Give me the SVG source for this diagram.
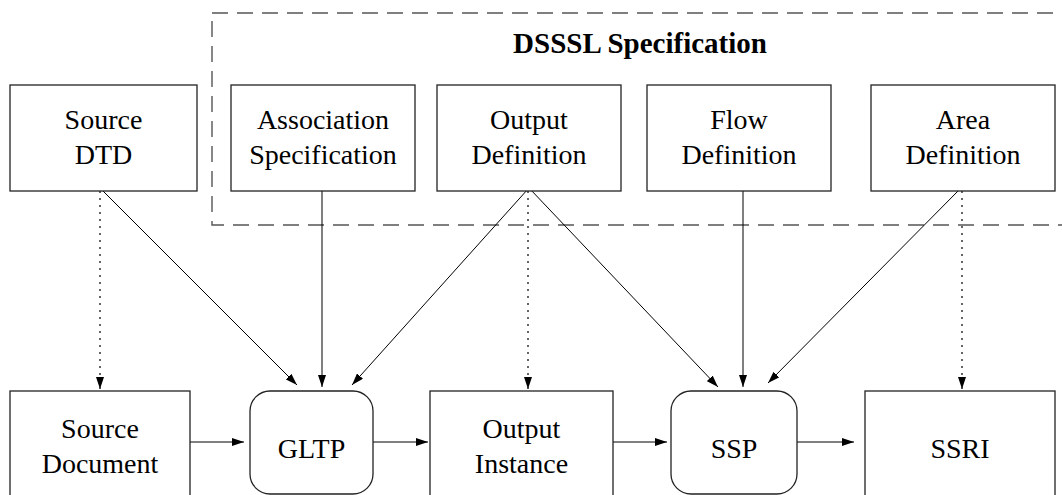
<svg xmlns="http://www.w3.org/2000/svg" width="1062" height="495" viewBox="0 0 1062 495">
<style>
.box{fill:#fff;stroke:#222;stroke-width:1.3}
.t{font-family:'Liberation Serif','Times New Roman',Tinos,'DejaVu Serif',serif;font-size:28px;text-anchor:middle;fill:#000}
.title{font-family:'Liberation Serif','Times New Roman',Tinos,'DejaVu Serif',serif;font-size:29px;font-weight:bold;text-anchor:middle;fill:#000}
.c{stroke:#000;stroke-width:1;fill:none;marker-end:url(#ah)}
.d{stroke:#000;stroke-width:1.2;fill:none;stroke-dasharray:2 5;marker-end:url(#ah)}
</style>
<defs>
<marker id="ah" viewBox="0 0 12 8" refX="12" refY="4" markerWidth="12" markerHeight="8" markerUnits="userSpaceOnUse" orient="auto">
<path d="M0,0 L12,4 L0,8 z" fill="#000"/>
</marker>
</defs>
<rect x="0" y="0" width="1062" height="495" fill="#fff"/>
<g id="dsssl-spec">
<rect x="212" y="13" width="900" height="212" fill="none" stroke="#555" stroke-width="1.4" stroke-dasharray="16 9"/>
<text class="title" x="640" y="53">DSSSL Specification</text>
</g>
<g id="connectors">
<path class="d" d="M100,191 L100,389"/>
<path class="c" d="M103,191 L297,385"/>
<path class="c" d="M322,191 L322,387"/>
<path class="c" d="M528,189 L352,385"/>
<path class="d" d="M528,191 L528,389"/>
<path class="c" d="M530,189 L718,387"/>
<path class="c" d="M743,191 L743,387"/>
<path class="c" d="M960,189 L768,383"/>
<path class="d" d="M962,191 L962,389"/>
<path class="c" d="M188,442 L244,442"/>
<path class="c" d="M370,442 L428,442"/>
<path class="c" d="M608,442 L667,442"/>
<path class="c" d="M795,442 L854,442"/>
</g>
<g id="source-dtd">
<rect class="box" x="10" y="85" width="187" height="106"/>
<text class="t" x="103.5" y="129">Source</text>
<text class="t" x="103.5" y="164">DTD</text>
</g>
<g id="association-specification">
<rect class="box" x="231" y="85" width="184" height="106"/>
<text class="t" x="323" y="129">Association</text>
<text class="t" x="323" y="164">Specification</text>
</g>
<g id="output-definition">
<rect class="box" x="437" y="85" width="184" height="106"/>
<text class="t" x="529" y="129">Output</text>
<text class="t" x="529" y="164">Definition</text>
</g>
<g id="flow-definition">
<rect class="box" x="647" y="85" width="184" height="106"/>
<text class="t" x="739" y="129">Flow</text>
<text class="t" x="739" y="164">Definition</text>
</g>
<g id="area-definition">
<rect class="box" x="871" y="85" width="184" height="106"/>
<text class="t" x="963" y="129">Area</text>
<text class="t" x="963" y="164">Definition</text>
</g>
<g id="source-document">
<rect class="box" x="10" y="391" width="180" height="120"/>
<text class="t" x="100" y="438">Source</text>
<text class="t" x="100" y="473">Document</text>
</g>
<g id="gltp">
<rect class="box" x="250" y="391" width="123" height="103" rx="20" ry="20"/>
<text class="t" x="311.5" y="458">GLTP</text>
</g>
<g id="output-instance">
<rect class="box" x="430" y="391" width="183" height="120"/>
<text class="t" x="521.5" y="438">Output</text>
<text class="t" x="521.5" y="473">Instance</text>
</g>
<g id="ssp">
<rect class="box" x="671" y="391" width="126" height="103" rx="20" ry="20"/>
<text class="t" x="734" y="458">SSP</text>
</g>
<g id="ssri">
<rect class="box" x="865" y="391" width="190" height="120"/>
<text class="t" x="960" y="458">SSRI</text>
</g>
</svg>
